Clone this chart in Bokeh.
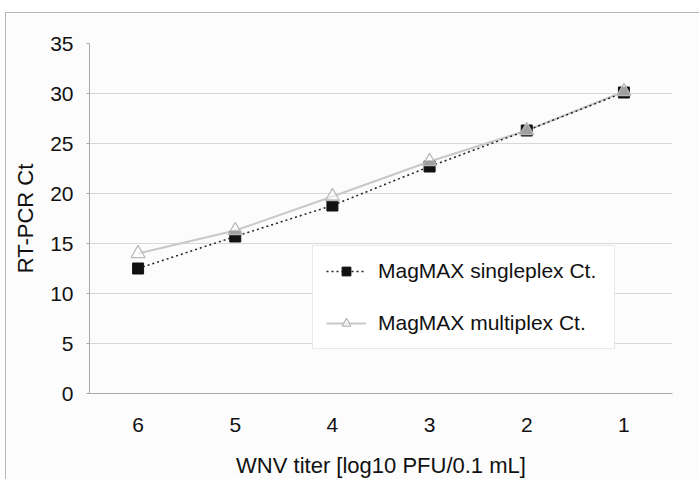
from bokeh.plotting import figure
from bokeh.models import FactorRange, Range1d, Legend, LegendItem, ColumnDataSource
from bokeh.embed import file_html
from bokeh.resources import INLINE

# WNV titer categories (log10 PFU/0.1 mL), highest titer first
titers = ["6", "5", "4", "3", "2", "1"]
singleplex_ct = [12.5, 15.7, 18.8, 22.7, 26.3, 30.1]
multiplex_ct = [14.0, 16.3, 19.7, 23.2, 26.3, 30.2]
y_ticks = [0, 5, 10, 15, 20, 25, 30, 35]

FONT = "Liberation Sans"
TEXT = "#111111"
BG = "#fcfcfc"

src = ColumnDataSource(dict(titer=titers, single=singleplex_ct, multi=multiplex_ct))

p = figure(
    x_range=FactorRange(factors=titers),
    y_range=Range1d(0, 35),
    width=694, height=467,
    output_backend="svg", toolbar_location=None,
    min_border_left=83, min_border_right=28,
    min_border_top=30, min_border_bottom=87,
    background_fill_color=BG, border_fill_color=BG,
)
p.styles = {"margin-left": "5px", "margin-top": "12px",
            "border-left": "1px solid #b4b4b4", "border-top": "1px solid #b4b4b4"}
p.outline_line_color = None

# grid
p.xgrid.grid_line_color = None
p.ygrid.grid_line_color = "#d8d8d8"
p.ygrid.grid_line_width = 1

# axes
p.yaxis.ticker = y_ticks
for ax in (p.xaxis, p.yaxis):
    ax.axis_line_color = "#a8a8a8"
    ax.major_tick_line_color = "#a8a8a8"
    ax.minor_tick_line_color = None
    ax.major_tick_in = 0
    ax.major_label_text_font = FONT
    ax.major_label_text_font_size = "21px"
    ax.major_label_text_color = TEXT
    ax.axis_label_text_font = FONT
    ax.axis_label_text_font_size = "22px"
    ax.axis_label_text_font_style = "normal"
    ax.axis_label_text_color = TEXT
p.yaxis.major_tick_out = 3
p.xaxis.major_tick_out = 0
p.yaxis.major_label_standoff = 13
p.xaxis.major_label_standoff = 24
p.yaxis.axis_label = "RT-PCR Ct"
p.xaxis.axis_label = "WNV titer [log10 PFU/0.1 mL]"
p.yaxis.axis_label_standoff = 9
p.xaxis.axis_label_standoff = 18

# series
multi_line = p.line("titer", "multi", source=src, line_color="#c8c8c8", line_width=2)
single_line = p.line("titer", "single", source=src, line_color="#222222",
                     line_width=1.5, line_dash="2 3")
single_pts = p.scatter("titer", "single", source=src, marker="square", size=11,
                       fill_color="#111111", line_color="#111111")
multi_pts = p.scatter("titer", "multi", source=src, marker="triangle", size=14,
                      fill_color="#ffffff", fill_alpha=0.6, line_color="#b8b8b8", line_width=1.2)

legend = Legend(
    items=[
        LegendItem(label="MagMAX singleplex Ct.", renderers=[single_line, single_pts]),
        LegendItem(label="MagMAX multiplex Ct.", renderers=[multi_line, multi_pts]),
    ],
    location=(223, 44),
    orientation="vertical",
    padding=13, spacing=28,
    glyph_width=40, glyph_height=22,
    label_height=22, label_width=223, label_standoff=12,
    label_text_font=FONT, label_text_font_size="21px", label_text_color=TEXT,
    border_line_color="#d4d4d4", border_line_width=1,
    background_fill_color="#ffffff", background_fill_alpha=1.0,
    margin=0,
)
p.add_layout(legend)

open("out.html", "w").write(file_html(p, INLINE))
